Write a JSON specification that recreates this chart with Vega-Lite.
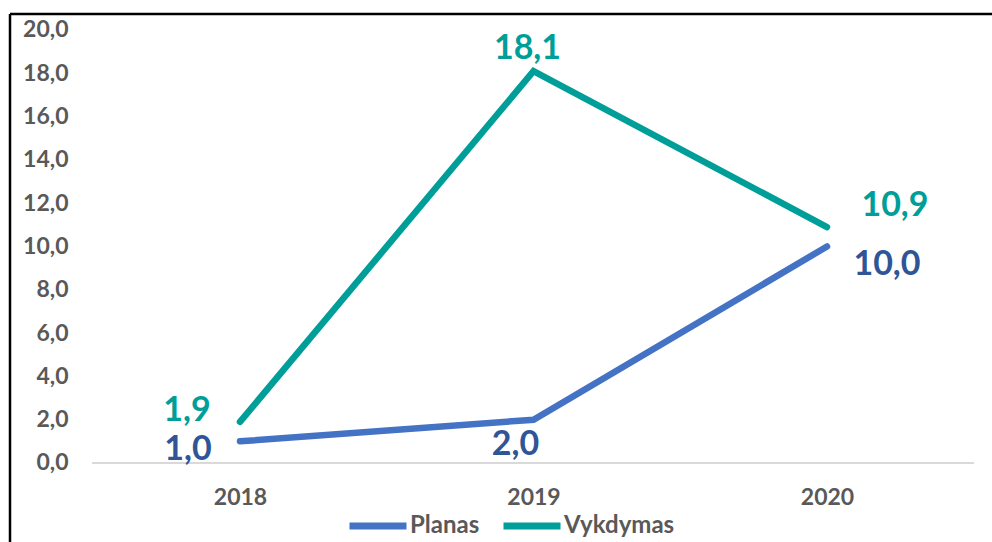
{
  "$schema": "https://vega.github.io/schema/vega-lite/v6.json",
  "width": 982,
  "height": 528,
  "autosize": {"type": "none"},
  "padding": {"left": 10, "top": 14, "right": 0, "bottom": 0},
  "background": "white",
  "config": {
    "view": {"stroke": null},
    "font": "Lato",
    "locale": {"number": {"decimal": ",", "thousands": " ", "grouping": [3], "currency": ["", "€"]}}
  },
  "datasets": {
    "series": [
      {"year": 2018, "series": "Planas", "value": 1.0},
      {"year": 2019, "series": "Planas", "value": 2.0},
      {"year": 2020, "series": "Planas", "value": 10.0},
      {"year": 2018, "series": "Vykdymas", "value": 1.9},
      {"year": 2019, "series": "Vykdymas", "value": 18.1},
      {"year": 2020, "series": "Vykdymas", "value": 10.9}
    ],
    "baseline": [{"x0": 2017.496, "x1": 2020.501, "y": 0}],
    "frame": [{"left": 2017.2164, "top": 20.739}]
  },
  "layer": [
    {
      "data": {"name": "series"},
      "mark": {"type": "line", "strokeWidth": 6.5, "strokeCap": "round", "strokeJoin": "miter"},
      "encoding": {
        "x": {
          "field": "year", "type": "quantitative", "title": null,
          "scale": {"domain": [2017.2164, 2020.5622], "nice": false, "zero": false},
          "axis": {"values": [2018, 2019, 2020], "format": "d", "title": null, "orient": "bottom", "offset": -45, "domain": false, "ticks": false, "tickSize": 0, "grid": false, "labelPadding": 0, "labelBaseline": "middle", "labelFont": "Lato", "labelFontWeight": "bold", "labelFontSize": 23, "labelColor": "#595959"}
        },
        "y": {
          "field": "value", "type": "quantitative", "title": null,
          "scale": {"domain": [-3.649, 20.739], "nice": false, "zero": false},
          "axis": {"values": [0, 2, 4, 6, 8, 10, 12, 14, 16, 18, 20], "format": ".1f", "title": null, "orient": "left", "offset": -58, "domain": false, "ticks": false, "tickSize": 0, "grid": false, "labelPadding": 0, "labelAlign": "right", "labelBaseline": "middle", "labelFont": "Lato", "labelFontWeight": "bold", "labelFontSize": 23, "labelColor": "#595959"}
        },
        "color": {
          "field": "series", "type": "nominal",
          "scale": {"domain": ["Planas", "Vykdymas"], "range": ["#4472C4", "#009E98"]},
          "legend": {"title": null, "orient": "none", "direction": "horizontal", "legendX": 336, "legendY": 480, "padding": 0, "symbolType": "stroke", "symbolSize": 3249, "symbolStrokeWidth": 7, "labelOffset": 0, "columnPadding": 9, "labelFont": "Lato", "labelFontWeight": "bold", "labelFontSize": 24, "labelColor": "#595959"}
        }
      }
    },
    {
      "data": {"name": "baseline"},
      "mark": {"type": "rule", "color": "#D9D9D9", "strokeWidth": 2},
      "encoding": {
        "x": {"field": "x0", "type": "quantitative", "title": null, "scale": {"domain": [2017.2164, 2020.5622], "nice": false, "zero": false},
          "axis": {"values": [2018, 2019, 2020], "format": "d", "title": null, "orient": "bottom", "offset": -45, "domain": false, "ticks": false, "tickSize": 0, "grid": false, "labelPadding": 0, "labelBaseline": "middle", "labelFont": "Lato", "labelFontWeight": "bold", "labelFontSize": 23, "labelColor": "#595959"}},
        "x2": {"field": "x1"},
        "y": {"field": "y", "type": "quantitative", "title": null, "scale": {"domain": [-3.649, 20.739], "nice": false, "zero": false},
          "axis": {"values": [0, 2, 4, 6, 8, 10, 12, 14, 16, 18, 20], "format": ".1f", "title": null, "orient": "left", "offset": -58, "domain": false, "ticks": false, "tickSize": 0, "grid": false, "labelPadding": 0, "labelAlign": "right", "labelBaseline": "middle", "labelFont": "Lato", "labelFontWeight": "bold", "labelFontSize": 23, "labelColor": "#595959"}}
      }
    },
    {
      "data": {"name": "frame"},
      "mark": {"type": "rule", "color": "black", "strokeWidth": 2.5},
      "encoding": {
        "y": {"field": "top", "type": "quantitative", "title": null, "scale": {"domain": [-3.649, 20.739], "nice": false, "zero": false},
          "axis": {"values": [0, 2, 4, 6, 8, 10, 12, 14, 16, 18, 20], "format": ".1f", "title": null, "orient": "left", "offset": -58, "domain": false, "ticks": false, "tickSize": 0, "grid": false, "labelPadding": 0, "labelAlign": "right", "labelBaseline": "middle", "labelFont": "Lato", "labelFontWeight": "bold", "labelFontSize": 23, "labelColor": "#595959"}}
      }
    },
    {
      "data": {"name": "frame"},
      "mark": {"type": "rule", "color": "black", "strokeWidth": 2.5},
      "encoding": {
        "x": {"field": "left", "type": "quantitative", "title": null, "scale": {"domain": [2017.2164, 2020.5622], "nice": false, "zero": false},
          "axis": {"values": [2018, 2019, 2020], "format": "d", "title": null, "orient": "bottom", "offset": -45, "domain": false, "ticks": false, "tickSize": 0, "grid": false, "labelPadding": 0, "labelBaseline": "middle", "labelFont": "Lato", "labelFontWeight": "bold", "labelFontSize": 23, "labelColor": "#595959"}}
      }
    },
    {
      "data": {"name": "series"},
      "transform": [{"filter": "datum.series == 'Vykdymas' && datum.year == 2018"}],
      "mark": {"type": "text", "font": "Lato", "fontWeight": "bold", "fontSize": 34, "color": "#009E98", "align": "center", "baseline": "middle", "dx": -53, "dy": -11},
      "encoding": {
        "x": {"field": "year", "type": "quantitative", "title": null, "scale": {"domain": [2017.2164, 2020.5622], "nice": false, "zero": false}},
        "y": {"field": "value", "type": "quantitative", "title": null, "scale": {"domain": [-3.649, 20.739], "nice": false, "zero": false}},
        "text": {"field": "value", "type": "quantitative", "format": ".1f"}
      }
    },
    {
      "data": {"name": "series"},
      "transform": [{"filter": "datum.series == 'Planas' && datum.year == 2018"}],
      "mark": {"type": "text", "font": "Lato", "fontWeight": "bold", "fontSize": 34, "color": "#2F5597", "align": "center", "baseline": "middle", "dx": -52, "dy": 9},
      "encoding": {
        "x": {"field": "year", "type": "quantitative", "title": null, "scale": {"domain": [2017.2164, 2020.5622], "nice": false, "zero": false}},
        "y": {"field": "value", "type": "quantitative", "title": null, "scale": {"domain": [-3.649, 20.739], "nice": false, "zero": false}},
        "text": {"field": "value", "type": "quantitative", "format": ".1f"}
      }
    },
    {
      "data": {"name": "series"},
      "transform": [{"filter": "datum.series == 'Planas' && datum.year == 2019"}],
      "mark": {"type": "text", "font": "Lato", "fontWeight": "bold", "fontSize": 34, "color": "#2F5597", "align": "center", "baseline": "middle", "dx": -18, "dy": 25},
      "encoding": {
        "x": {"field": "year", "type": "quantitative", "title": null, "scale": {"domain": [2017.2164, 2020.5622], "nice": false, "zero": false}},
        "y": {"field": "value", "type": "quantitative", "title": null, "scale": {"domain": [-3.649, 20.739], "nice": false, "zero": false}},
        "text": {"field": "value", "type": "quantitative", "format": ".1f"}
      }
    },
    {
      "data": {"name": "series"},
      "transform": [{"filter": "datum.series == 'Vykdymas' && datum.year == 2019"}],
      "mark": {"type": "text", "font": "Lato", "fontWeight": "bold", "fontSize": 34, "color": "#009E98", "align": "center", "baseline": "middle", "dx": -6, "dy": -22},
      "encoding": {
        "x": {"field": "year", "type": "quantitative", "title": null, "scale": {"domain": [2017.2164, 2020.5622], "nice": false, "zero": false}},
        "y": {"field": "value", "type": "quantitative", "title": null, "scale": {"domain": [-3.649, 20.739], "nice": false, "zero": false}},
        "text": {"field": "value", "type": "quantitative", "format": ".1f"}
      }
    },
    {
      "data": {"name": "series"},
      "transform": [{"filter": "datum.series == 'Vykdymas' && datum.year == 2020"}],
      "mark": {"type": "text", "font": "Lato", "fontWeight": "bold", "fontSize": 34, "color": "#009E98", "align": "center", "baseline": "middle", "dx": 68, "dy": -21},
      "encoding": {
        "x": {"field": "year", "type": "quantitative", "title": null, "scale": {"domain": [2017.2164, 2020.5622], "nice": false, "zero": false}},
        "y": {"field": "value", "type": "quantitative", "title": null, "scale": {"domain": [-3.649, 20.739], "nice": false, "zero": false}},
        "text": {"field": "value", "type": "quantitative", "format": ".1f"}
      }
    },
    {
      "data": {"name": "series"},
      "transform": [{"filter": "datum.series == 'Planas' && datum.year == 2020"}],
      "mark": {"type": "text", "font": "Lato", "fontWeight": "bold", "fontSize": 34, "color": "#2F5597", "align": "center", "baseline": "middle", "dx": 60, "dy": 19},
      "encoding": {
        "x": {"field": "year", "type": "quantitative", "title": null, "scale": {"domain": [2017.2164, 2020.5622], "nice": false, "zero": false}},
        "y": {"field": "value", "type": "quantitative", "title": null, "scale": {"domain": [-3.649, 20.739], "nice": false, "zero": false}},
        "text": {"field": "value", "type": "quantitative", "format": ".1f"}
      }
    }
  ]
}
